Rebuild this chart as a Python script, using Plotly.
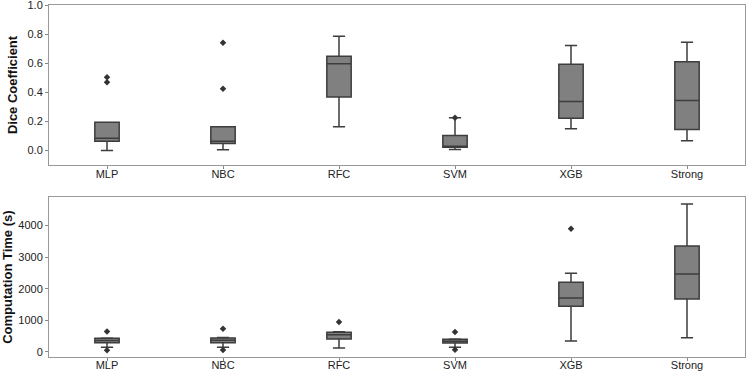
import plotly.graph_objects as go

categories = ["MLP", "NBC", "RFC", "SVM", "XGB", "Strong"]

# Dice coefficient box statistics
dice_low = [0.0, 0.005, 0.163, 0.007, 0.150, 0.067]
dice_q1 = [0.064, 0.048, 0.368, 0.023, 0.223, 0.145]
dice_med = [0.085, 0.064, 0.598, 0.030, 0.338, 0.345]
dice_q3 = [0.195, 0.163, 0.650, 0.103, 0.595, 0.612]
dice_high = [0.195, 0.163, 0.788, 0.225, 0.724, 0.747]
dice_out_cat = ["MLP", "MLP", "NBC", "NBC", "SVM"]
dice_out_val = [0.470, 0.505, 0.425, 0.742, 0.225]

# Computation time box statistics
time_low = [145, 150, 127, 146, 348, 452]
time_q1 = [290, 290, 410, 285, 1443, 1677]
time_med = [360, 370, 548, 340, 1709, 2468]
time_q3 = [430, 440, 620, 400, 2203, 3354]
time_high = [440, 460, 640, 410, 2488, 4683]
time_out_cat = ["MLP", "MLP", "NBC", "NBC", "RFC", "SVM", "SVM", "XGB"]
time_out_val = [650, 50, 737, 60, 950, 633, 70, 3902]

FILL = "#808080"
EDGE = "#3d3d3d"
FONT = "Liberation Sans, Arial, sans-serif"

fig = go.Figure()

def add_box(low, q1, med, q3, high, xa, ya):
    fig.add_trace(go.Box(
        x=categories, lowerfence=low, q1=q1, median=med, q3=q3, upperfence=high,
        fillcolor=FILL, line=dict(color=EDGE, width=1.5), whiskerwidth=0.5,
        width=0.21, boxpoints=False, xaxis=xa, yaxis=ya, showlegend=False,
        hoverinfo="skip",
    ))

def add_out(cat, val, xa, ya):
    fig.add_trace(go.Scatter(
        x=cat, y=val, mode="markers",
        marker=dict(symbol="diamond", size=5, color="#333333"),
        xaxis=xa, yaxis=ya, showlegend=False, hoverinfo="skip",
    ))

add_box(dice_low, dice_q1, dice_med, dice_q3, dice_high, "x", "y")
add_out(dice_out_cat, dice_out_val, "x", "y")
add_box(time_low, time_q1, time_med, time_q3, time_high, "x2", "y2")
add_out(time_out_cat, time_out_val, "x2", "y2")

axis_common = dict(
    showline=True, linecolor="#999999", linewidth=1, mirror=True,
    showgrid=False, zeroline=False, ticks="outside", ticklen=3,
    tickcolor="#888888", automargin=False, ticklabeloverflow="allow",
    tickfont=dict(family=FONT, size=11, color="#222222"),
)

fig.update_layout(
    width=747, height=373,
    margin=dict(l=49, r=2, t=5, b=16),
    plot_bgcolor="white", paper_bgcolor="white",
    xaxis=dict(domain=[0, 1], anchor="y", type="category",
               categoryorder="array", categoryarray=categories,
               range=[-0.5, 5.5], ticklabelstandoff=-4, **axis_common),
    yaxis=dict(domain=[0.5455, 1], anchor="x", range=[-0.1, 1.003],
               tickvals=[0.0, 0.2, 0.4, 0.6, 0.8, 1.0], tickformat=".1f",
               title=dict(text="<b>Dice Coefficient</b>", standoff=6,
                          font=dict(family=FONT, size=13, color="#111111")),
               **axis_common),
    xaxis2=dict(domain=[0, 1], anchor="y2", type="category",
                categoryorder="array", categoryarray=categories,
                range=[-0.5, 5.5], ticklabelstandoff=-5, **axis_common),
    yaxis2=dict(domain=[0, 0.454], anchor="x2", range=[-160, 4900],
                tickvals=[0, 1000, 2000, 3000, 4000],
                title=dict(text="<b>Computation Time (s)</b>", standoff=6,
                           font=dict(family=FONT, size=13, color="#111111")),
                **axis_common),
)

fig.write_html("out.html", config={"displayModeBar": False},
               post_script="document.body.style.margin='0';")
